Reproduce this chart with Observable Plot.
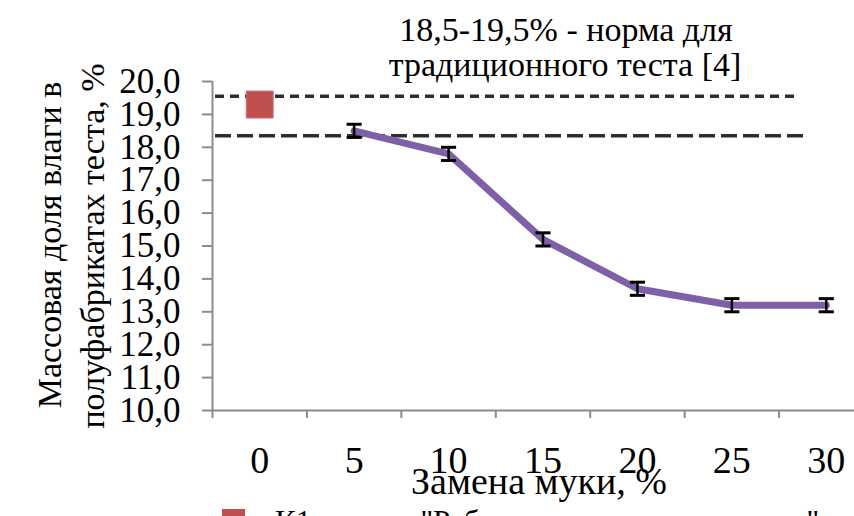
<!DOCTYPE html>
<html><head><meta charset="utf-8">
<script src="https://cdn.jsdelivr.net/npm/d3@7"></script>
<script src="https://cdn.jsdelivr.net/npm/@observablehq/plot@0.6"></script>
<style>
html,body{margin:0;padding:0;background:#fff;overflow:hidden;width:854px;height:516px;}
#wrap{position:relative;width:854px;height:516px;font-family:'Liberation Serif','Times New Roman',serif;color:#000;overflow:hidden;}
#wrap svg{position:absolute;left:0;top:0;}
.t{position:absolute;white-space:nowrap;font-family:'Liberation Serif','Times New Roman',serif;}
.r{transform:translate(-50%,-50%) rotate(-90deg);}
.c{transform:translateX(-50%);}
</style></head><body><div id="wrap"></div>
<script>
// ---- data ----
const xCategories = [0, 5, 10, 15, 20, 25, 30];
const controlX = [0];
const controlMoisture = [19.3];
const sampleX = [5, 10, 15, 20, 25, 30];
const sampleMoisture = [18.5, 17.8, 15.2, 13.7, 13.2, 13.2];
const sampleError = [0.2, 0.2, 0.2, 0.2, 0.2, 0.2];
const normUpper = [19.55];
const normLower = [18.35];
const yTicks = [10, 11, 12, 13, 14, 15, 16, 17, 18, 19, 20];
const titleLines = ["18,5-19,5% - норма для", "традиционного теста [4]"];
const yLabelLines = ["Массовая доля влаги в", "полуфабрикатах теста, %"];
const xLabel = "Замена муки, %";
const legendLabel = "К1 – тесто \"Рябиновое печенье заварное\"";

// ---- derived tables ----
const control = controlX.map((x, i) => ({x, y: controlMoisture[i]}));
const samples = sampleX.map((x, i) => ({x, y: sampleMoisture[i], e: sampleError[i]}));
const step = xCategories[1] - xCategories[0];
const bounds = xCategories.map(c => c - step / 2).concat([xCategories[xCategories.length - 1] + step / 2]);
const capHalf = 0.4;
const axisGray = "#8c8c8c";
const serif = "'Liberation Serif','Times New Roman',serif";
const fmt = d => d.toFixed(1).replace(".", ",");

const plot = Plot.plot({
  width: 854,
  height: 516,
  marginTop: 81,
  marginBottom: 106,
  marginLeft: 212,
  marginRight: 0,
  style: {fontFamily: serif, fontSize: "34px", color: "#000", background: "transparent", overflow: "visible"},
  x: {type: "linear", domain: [bounds[0], bounds[bounds.length - 1]], range: [212, 873], axis: null},
  y: {domain: [10, 20], axis: null},
  marks: [
    Plot.ruleY(normUpper, {stroke: "#2e2e2e", strokeWidth: 3.5, strokeDasharray: "9 6", insetLeft: 3, insetRight: 56}),
    Plot.ruleY(normLower, {stroke: "#2e2e2e", strokeWidth: 3.5, strokeDasharray: "16 6", insetLeft: 3, insetRight: 51}),
    Plot.ruleX([bounds[0]], {y1: 10, y2: 20, stroke: axisGray, strokeWidth: 2}),
    Plot.axisY({ticks: yTicks, tickSize: 10, text: null, label: null, stroke: axisGray, strokeWidth: 2}),
    Plot.axisY({ticks: yTicks, tickSize: 0, tickPadding: 32, tickFormat: fmt, label: null, fill: "#000", fontSize: 35, fontFamily: serif}),
    Plot.ruleY([10], {stroke: axisGray, strokeWidth: 2}),
    Plot.axisX({ticks: bounds, tickSize: 8, text: null, label: null, stroke: axisGray, strokeWidth: 2}),
    Plot.axisX({ticks: xCategories, tickSize: 0, tickPadding: 36, tickFormat: d => String(d), label: null, fill: "#000", fontSize: 38, fontFamily: serif}),
    Plot.dot(control, {x: "x", y: "y", symbol: "square", r: 15.2, fill: "#c0504d", stroke: "#d06f6c", strokeWidth: 1}),
    Plot.line(samples, {x: "x", y: "y", stroke: "#7f5fa8", strokeWidth: 7, strokeLinejoin: "round"}),
    Plot.ruleX(samples, {x: "x", y1: d => d.y - d.e, y2: d => d.y + d.e, stroke: "#000", strokeWidth: 2.5}),
    Plot.link(samples, {x1: d => d.x - capHalf, x2: d => d.x + capHalf, y1: d => d.y + d.e, y2: d => d.y + d.e, stroke: "#000", strokeWidth: 3}),
    Plot.link(samples, {x1: d => d.x - capHalf, x2: d => d.x + capHalf, y1: d => d.y - d.e, y2: d => d.y - d.e, stroke: "#000", strokeWidth: 3})
  ]
});

const wrap = document.getElementById("wrap");
wrap.appendChild(plot);

function addText(txt, cls, left, top, fs) {
  const d = document.createElement("div");
  d.className = "t " + cls;
  d.textContent = txt;
  d.style.left = left + "px";
  d.style.top = top + "px";
  d.style.fontSize = fs + "px";
  d.style.lineHeight = fs + "px";
  wrap.appendChild(d);
  return d;
}
addText(titleLines[0], "c", 566, 13, 34);
addText(titleLines[1], "c", 565, 48, 34);
addText(xLabel, "c", 539, 462, 38);
addText(yLabelLines[0], "r", 50, 245, 34);
addText(yLabelLines[1], "r", 93, 246, 34);

const leg = document.createElement("div");
leg.style.cssText = "position:absolute;left:222px;top:509px;display:flex;align-items:flex-start;";
const sw = document.createElement("div");
sw.style.cssText = "width:23px;height:23px;background:#c0504d;margin-right:30px;";
const lt = document.createElement("div");
lt.className = "t";
lt.style.position = "static";
lt.style.marginTop = "-3px";
lt.style.fontSize = "31px";
lt.style.lineHeight = "31px";
lt.textContent = legendLabel;
leg.appendChild(sw); leg.appendChild(lt);
wrap.appendChild(leg);
</script></body></html>
